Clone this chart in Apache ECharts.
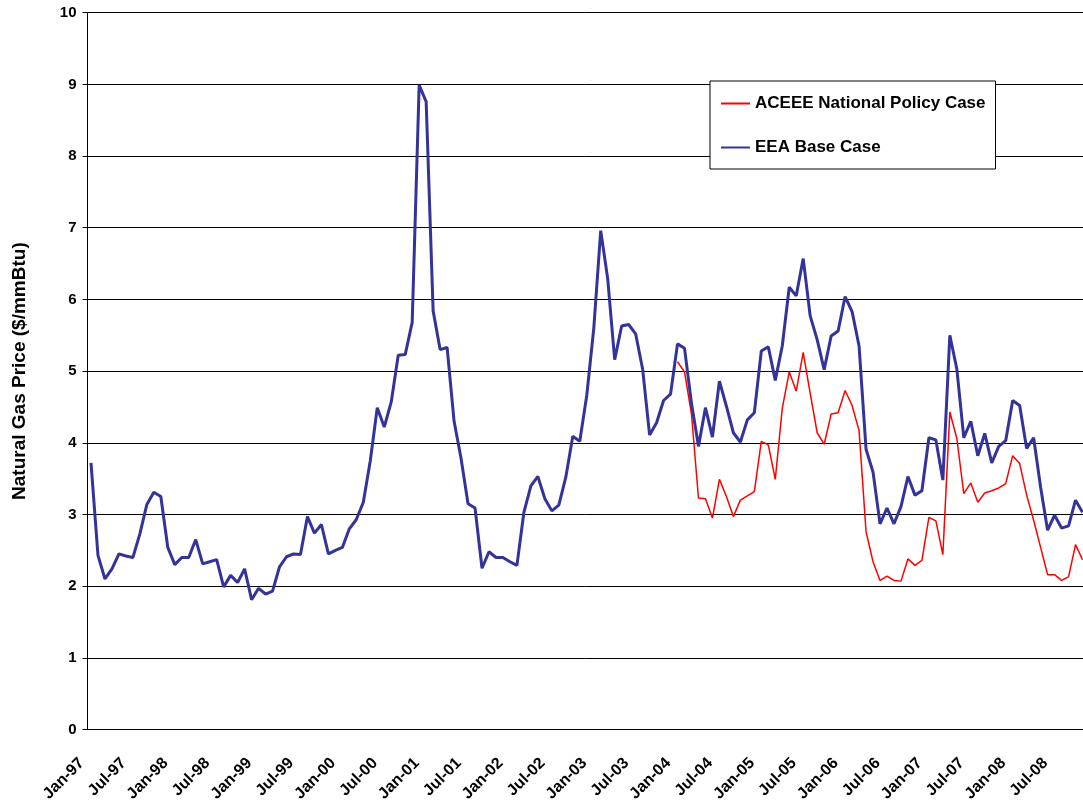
<!DOCTYPE html>
<html>
<head>
<meta charset="utf-8">
<title>Natural Gas Price</title>
<script src="https://cdn.jsdelivr.net/npm/echarts@6/dist/echarts.min.js"></script>
<style>
  html, body { margin: 0; padding: 0; background: #fff; }
  #chart { width: 1083px; height: 804px; }
</style>
</head>
<body>
<div id="chart"></div>
<script>
// monthly, Jan-97 .. Nov-08
const monthNames = ["Jan", "Feb", "Mar", "Apr", "May", "Jun", "Jul", "Aug", "Sep", "Oct", "Nov", "Dec"];
const months = [];
for (let y = 1997; y <= 2008; y++) {
  for (let m = 0; m < 12; m++) {
    if (y === 2008 && m > 10) break;
    months.push(monthNames[m] + "-" + String(y % 100).padStart(2, "0"));
  }
}

// EEA Base Case ($/mmBtu)
const eeaBase = [
  3.72, 2.43, 2.10, 2.24, 2.45, 2.42, 2.40, 2.73, 3.14, 3.31, 3.25, 2.54,
  2.30, 2.40, 2.40, 2.65, 2.31, 2.34, 2.37, 1.99, 2.15, 2.05, 2.24, 1.81,
  1.97, 1.89, 1.93, 2.27, 2.41, 2.45, 2.44, 2.97, 2.74, 2.86, 2.45, 2.50,
  2.54, 2.80, 2.93, 3.17, 3.75, 4.49, 4.22, 4.57, 5.22, 5.23, 5.68, 8.99,
  8.76, 5.84, 5.30, 5.33, 4.30, 3.78, 3.15, 3.09, 2.25, 2.48, 2.40, 2.40,
  2.34, 2.29, 3.03, 3.40, 3.53, 3.22, 3.05, 3.13, 3.52, 4.09, 4.02, 4.66,
  5.59, 6.96, 6.29, 5.16, 5.63, 5.65, 5.52, 5.03, 4.11, 4.28, 4.59, 4.68,
  5.38, 5.32, 4.55, 3.95, 4.49, 4.08, 4.86, 4.51, 4.14, 4.01, 4.32, 4.42,
  5.28, 5.34, 4.87, 5.35, 6.17, 6.05, 6.57, 5.77, 5.44, 5.02, 5.49, 5.56,
  6.04, 5.83, 5.35, 3.91, 3.59, 2.87, 3.09, 2.87, 3.11, 3.53, 3.27, 3.33,
  4.07, 4.04, 3.48, 5.50, 5.03, 4.07, 4.30, 3.82, 4.13, 3.72, 3.95, 4.03,
  4.59, 4.52, 3.92, 4.07, 3.38, 2.78, 2.99, 2.81, 2.84, 3.20, 3.03
];

// ACEEE National Policy Case, starts Jan-04
const aceeeStart = "Jan-04";
const aceeePolicy = [
  5.13, 4.99, 4.40, 3.23, 3.22, 2.95, 3.49, 3.25, 2.97, 3.20, 3.26, 3.32,
  4.02, 3.97, 3.49, 4.48, 4.99, 4.72, 5.26, 4.69, 4.14, 3.98, 4.40, 4.42,
  4.73, 4.52, 4.17, 2.76, 2.34, 2.08, 2.14, 2.08, 2.07, 2.38, 2.29, 2.36,
  2.96, 2.91, 2.44, 4.43, 4.06, 3.29, 3.44, 3.17, 3.30, 3.33, 3.37, 3.43,
  3.82, 3.71, 3.27, 2.92, 2.54, 2.16, 2.16, 2.08, 2.13, 2.58, 2.37
];

const yTicks = [0, 1, 2, 3, 4, 5, 6, 7, 8, 9, 10];

const pad = months.indexOf(aceeeStart);
const aceeeData = new Array(pad).fill(null).concat(aceeePolicy);

const font = 'Arial, "Liberation Sans", sans-serif';
const chart = echarts.init(document.getElementById("chart"));

chart.setOption({
  animation: false,
  textStyle: { fontFamily: font },
  grid: { left: 87.5, top: 12.7, bottom: 74.5, right: -3, containLabel: false, outerBoundsMode: "none" },
  legend: {
    orient: "vertical",
    left: 710,
    top: 81,
    padding: [14, 10, 13, 10],
    itemGap: 27,
    itemWidth: 29,
    itemHeight: 14,
    borderColor: "#000",
    borderWidth: 1,
    backgroundColor: "#fff",
    itemStyle: { opacity: 0 },
    textStyle: { fontFamily: font, fontSize: 17, fontWeight: "bold", color: "#000" },
    data: ["ACEEE National Policy Case", "EEA Base Case"]
  },
  xAxis: {
    type: "category",
    data: months,
    boundaryGap: true,
    axisLine: { lineStyle: { color: "#000", width: 1 } },
    axisTick: { interval: 5, length: 5, lineStyle: { color: "#000" } },
    axisLabel: {
      interval: 5,
      rotate: 45,
      margin: 22,
      padding: [0, 13, 0, 0],
      fontFamily: font,
      fontSize: 16,
      fontWeight: "bold",
      color: "#000"
    },
    splitLine: { show: false }
  },
  yAxis: {
    type: "value",
    min: yTicks[0],
    max: yTicks[yTicks.length - 1],
    interval: 1,
    name: "Natural Gas Price ($/mmBtu)",
    nameLocation: "middle",
    nameRotate: 90,
    nameGap: 58,
    nameTextStyle: { fontFamily: font, fontSize: 19, fontWeight: "bold", color: "#000" },
    axisLine: { show: true, lineStyle: { color: "#000", width: 1 } },
    axisTick: { show: true, length: 5, lineStyle: { color: "#000" } },
    axisLabel: { margin: 11, fontFamily: font, fontSize: 15, fontWeight: "bold", color: "#000" },
    splitLine: { show: true, lineStyle: { color: "#000", width: 1 } }
  },
  series: [
    {
      name: "ACEEE National Policy Case",
      type: "line",
      data: aceeeData,
      symbol: "none",
      color: "#ff0000",
      lineStyle: { width: 1.5, color: "#ff0000" }
    },
    {
      name: "EEA Base Case",
      type: "line",
      data: eeaBase,
      symbol: "none",
      color: "#333399",
      lineStyle: { width: 3, color: "#333399" }
    }
  ]
});

window.addEventListener("resize", () => chart.resize());
</script>
</body>
</html>
